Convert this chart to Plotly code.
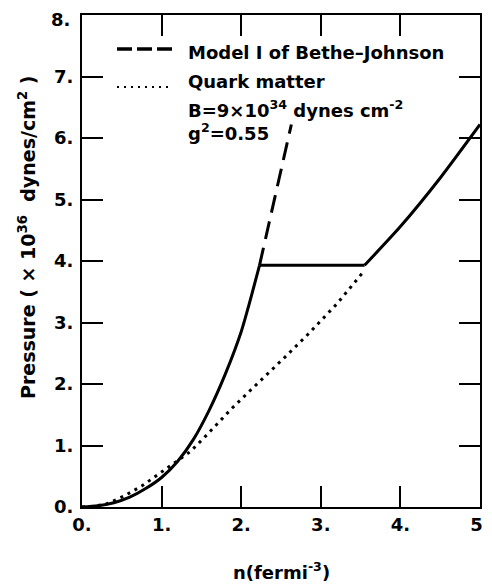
import plotly.graph_objects as go

# Nuclear matter (Model I of Bethe-Johnson), solid part
n_hadron = [0.0, 0.2, 0.4, 0.6, 0.8, 1.0, 1.2, 1.4, 1.6, 1.8, 2.0, 2.1, 2.23]
p_hadron = [0.0, 0.02, 0.07, 0.16, 0.3, 0.48, 0.74, 1.1, 1.58, 2.16, 2.85, 3.3, 3.93]

# Bethe-Johnson continuation (dashed)
n_bj_ext = [2.23, 2.33, 2.43, 2.53, 2.63]
p_bj_ext = [3.93, 4.5, 5.08, 5.65, 6.22]

# Mixed phase plateau
n_mixed = [2.23, 3.55]
p_mixed = [3.93, 3.93]

# Quark matter above transition (solid)
n_quark_hi = [3.55, 4.0, 4.5, 5.0]
p_quark_hi = [3.93, 4.56, 5.35, 6.22]

# Quark matter (dotted)
n_quark = [0.0, 0.15, 0.33, 0.53, 0.75, 0.95, 1.14, 1.36, 1.53, 1.7, 1.88, 2.07, 2.3, 2.56, 2.84, 3.2, 3.52]
p_quark = [0.0, 0.01, 0.06, 0.18, 0.34, 0.52, 0.69, 0.9, 1.12, 1.36, 1.6, 1.84, 2.12, 2.45, 2.81, 3.3, 3.8]

x_ticks = [0, 1, 2, 3, 4, 5]
x_ticktext = ["0.", "1.", "2.", "3.", "4.", "5."]
y_ticks = [0, 1, 2, 3, 4, 5, 6, 7, 8]
y_ticktext = ["0.", "1.", "2.", "3.", "4.", "5.", "6.", "7.", "8."]

x_title = "n(fermi<sup>-3</sup>)"
y_title = "Pressure (\u00a0× 10<sup>36</sup>\u00a0 dynes/cm<sup>2</sup>\u00a0)"
legend_texts = ["Model I of Bethe–Johnson", "Quark matter",
                "B=9×10<sup>34</sup> dynes cm<sup>-2</sup>", "g<sup>2</sup>=0.55"]

BLACK = "#000000"
FONT = "DejaVu Sans"

fig = go.Figure()
fig.add_trace(go.Scatter(x=n_quark, y=p_quark, mode="lines", line=dict(color=BLACK, width=3, dash="3px,5px"), hoverinfo="skip"))
fig.add_trace(go.Scatter(x=n_hadron, y=p_hadron, mode="lines", line=dict(color=BLACK, width=3, shape="spline", smoothing=0.8), hoverinfo="skip"))
fig.add_trace(go.Scatter(x=n_bj_ext, y=p_bj_ext, mode="lines", line=dict(color=BLACK, width=3, dash="18px,9px"), hoverinfo="skip"))
fig.add_trace(go.Scatter(x=n_mixed, y=p_mixed, mode="lines", line=dict(color=BLACK, width=3), hoverinfo="skip"))
fig.add_trace(go.Scatter(x=n_quark_hi, y=p_quark_hi, mode="lines", line=dict(color=BLACK, width=3, shape="spline", smoothing=0.6), hoverinfo="skip"))

# page has an 8px body margin, so the figure is shifted by 8px
W, H = 484, 578
L, T = 74, 7
PW, PH = 398, 492
R, B = W - L - PW, H - T - PH

def px(sx):
    return (sx - 8 - L) / PW

def py(sy):
    return (T + PH - (sy - 8)) / PH

tickfont = dict(family=FONT, size=18, color=BLACK, weight="bold")
axis_common = dict(ticks="inside", ticklen=21, tickwidth=2, tickcolor=BLACK, showline=True, linecolor=BLACK,
                   linewidth=2, mirror="ticks", showgrid=False, zeroline=False, tickfont=tickfont,
                   automargin=False, ticklabeloverflow="allow")
fig.update_xaxes(range=[0, 5], tickvals=x_ticks, ticktext=x_ticktext, ticklabelstandoff=0, **axis_common)
# the top label ("8.") sits a little below its tick, as in the original; drawn separately
y_shown = [t if v != y_ticks[-1] else "" for v, t in zip(y_ticks, y_ticktext)]
fig.update_yaxes(range=[0, 8], tickvals=y_ticks, ticktext=y_shown, ticklabelstandoff=3, **axis_common)
fig.add_annotation(xref="paper", yref="paper", x=px(72), y=py(20), xanchor="right", yanchor="middle",
                   text=y_ticktext[-1], showarrow=False, font=tickfont)

# Axis titles
fig.add_annotation(xref="paper", yref="paper", x=px(281), y=py(571), xanchor="center", yanchor="middle",
                   text=x_title, showarrow=False, font=dict(family=FONT, size=18, color=BLACK, weight="bold"))
fig.add_annotation(xref="paper", yref="paper", x=px(27), y=py(237), xanchor="center", yanchor="middle",
                   text=y_title, textangle=-90, showarrow=False,
                   font=dict(family=FONT, size=19, color=BLACK, weight="bold"))

# Legend drawn manually
fig.add_shape(type="line", xref="paper", yref="paper", x0=px(117), x1=px(174), y0=py(49), y1=py(49),
              line=dict(color=BLACK, width=3.5, dash="15px,5px"))
fig.add_shape(type="line", xref="paper", yref="paper", x0=px(117), x1=px(172), y0=py(87), y1=py(87),
              line=dict(color=BLACK, width=2, dash="2px,5px"))
ann_font = dict(family=FONT, size=18, color=BLACK, weight="bold")
legend_y = [52, 81, 109, 132]
for txt, sy in zip(legend_texts, legend_y):
    fig.add_annotation(xref="paper", yref="paper", x=px(186), y=py(sy), xanchor="left", yanchor="middle",
                       text=txt, showarrow=False, font=ann_font)

fig.update_layout(width=W, height=H, margin=dict(l=L, r=R, t=T, b=B), plot_bgcolor="white",
                  paper_bgcolor="white", showlegend=False, font=dict(family=FONT, color=BLACK))

fig.write_html("out.html")
